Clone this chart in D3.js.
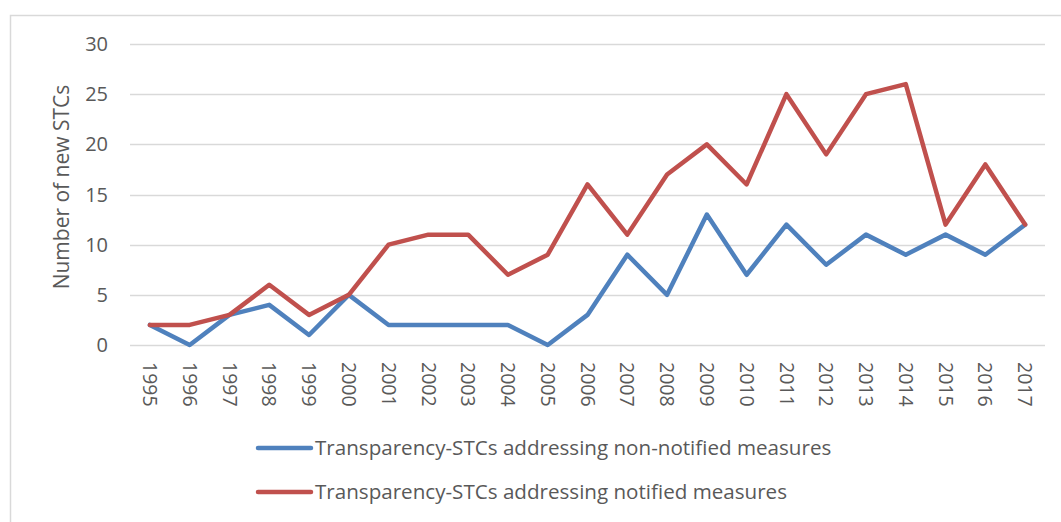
<!DOCTYPE html>
<html>
<head>
<meta charset="utf-8">
<script src="https://cdn.jsdelivr.net/npm/d3@7"></script>
<style>
  body { margin: 0; background: #fff; }
  text { font-family: "Open Sans", sans-serif; fill: #595959; }
</style>
</head>
<body>
<svg id="chart" width="1061" height="522"></svg>
<script>
const years = ["1995","1996","1997","1998","1999","2000","2001","2002","2003","2004","2005",
  "2006","2007","2008","2009","2010","2011","2012","2013","2014","2015","2016","2017"];
const nonNotified = [2,0,3,4,1,5,2,2,2,2,0,3,9,5,13,7,12,8,11,9,11,9,12];
const notified = [2,2,3,6,3,5,10,11,11,7,9,16,11,17,20,16,25,19,25,26,12,18,12];
const seriesNames = [
  "Transparency-STCs addressing non-notified measures",
  "Transparency-STCs addressing notified measures"
];
const yTicks = [0,5,10,15,20,25,30];

const svg = d3.select("#chart");

// outer chart border
svg.append("rect")
  .attr("x", 10.5).attr("y", 15.5)
  .attr("width", 1100).attr("height", 600)
  .attr("fill", "none").attr("stroke", "#d9d9d9").attr("stroke-width", 1.5);

const x = d3.scaleBand().domain(years).range([130, 1045]);
const y = d3.scaleLinear().domain([0, 30]).range([345, 44]);

// gridlines
svg.append("g")
  .selectAll("line")
  .data(yTicks).enter()
  .append("line")
  .attr("x1", 130).attr("x2", 1045)
  .attr("y1", d => Math.round(y(d)) + 0.5)
  .attr("y2", d => Math.round(y(d)) + 0.5)
  .attr("stroke", "#d9d9d9").attr("stroke-width", 1.5);

// y tick labels
svg.append("g")
  .selectAll("text")
  .data(yTicks).enter()
  .append("text")
  .attr("x", 108)
  .attr("y", d => y(d))
  .attr("dy", "0.35em")
  .attr("text-anchor", "end")
  .style("font-size", "20px")
  .text(d => d);

// x tick labels, rotated
svg.append("g")
  .selectAll("text")
  .data(years).enter()
  .append("text")
  .attr("transform", d => `translate(${x(d) + x.bandwidth() / 2},362) rotate(90)`)
  .attr("dy", "0.35em")
  .style("font-size", "19.5px")
  .text(d => d);

// axis title
svg.append("text")
  .attr("transform", "translate(62,187) rotate(-90)")
  .attr("text-anchor", "middle")
  .attr("dy", "0.35em")
  .style("font-size", "21px")
  .text("Number of new STCs");

const line = d3.line()
  .x((d, i) => x(years[i]) + x.bandwidth() / 2)
  .y(d => y(d));

const colors = ["#4f81bd", "#c0504d"];
[nonNotified, notified].forEach((vals, i) => {
  svg.append("path")
    .datum(vals)
    .attr("d", line)
    .attr("fill", "none")
    .attr("stroke", colors[i])
    .attr("stroke-width", 4.5)
    .attr("stroke-linejoin", "round")
    .attr("stroke-linecap", "round");
});

// legend
const legend = svg.append("g");
seriesNames.forEach((name, i) => {
  const ly = 448 + i * 44;
  legend.append("line")
    .attr("x1", 258).attr("x2", 311)
    .attr("y1", ly).attr("y2", ly)
    .attr("stroke", colors[i]).attr("stroke-width", 4.5)
    .attr("stroke-linecap", "round");
  legend.append("text")
    .attr("x", 315).attr("y", ly)
    .attr("dy", "0.35em")
    .style("font-size", "20.6px")
    .text(name);
});
</script>
</body>
</html>
